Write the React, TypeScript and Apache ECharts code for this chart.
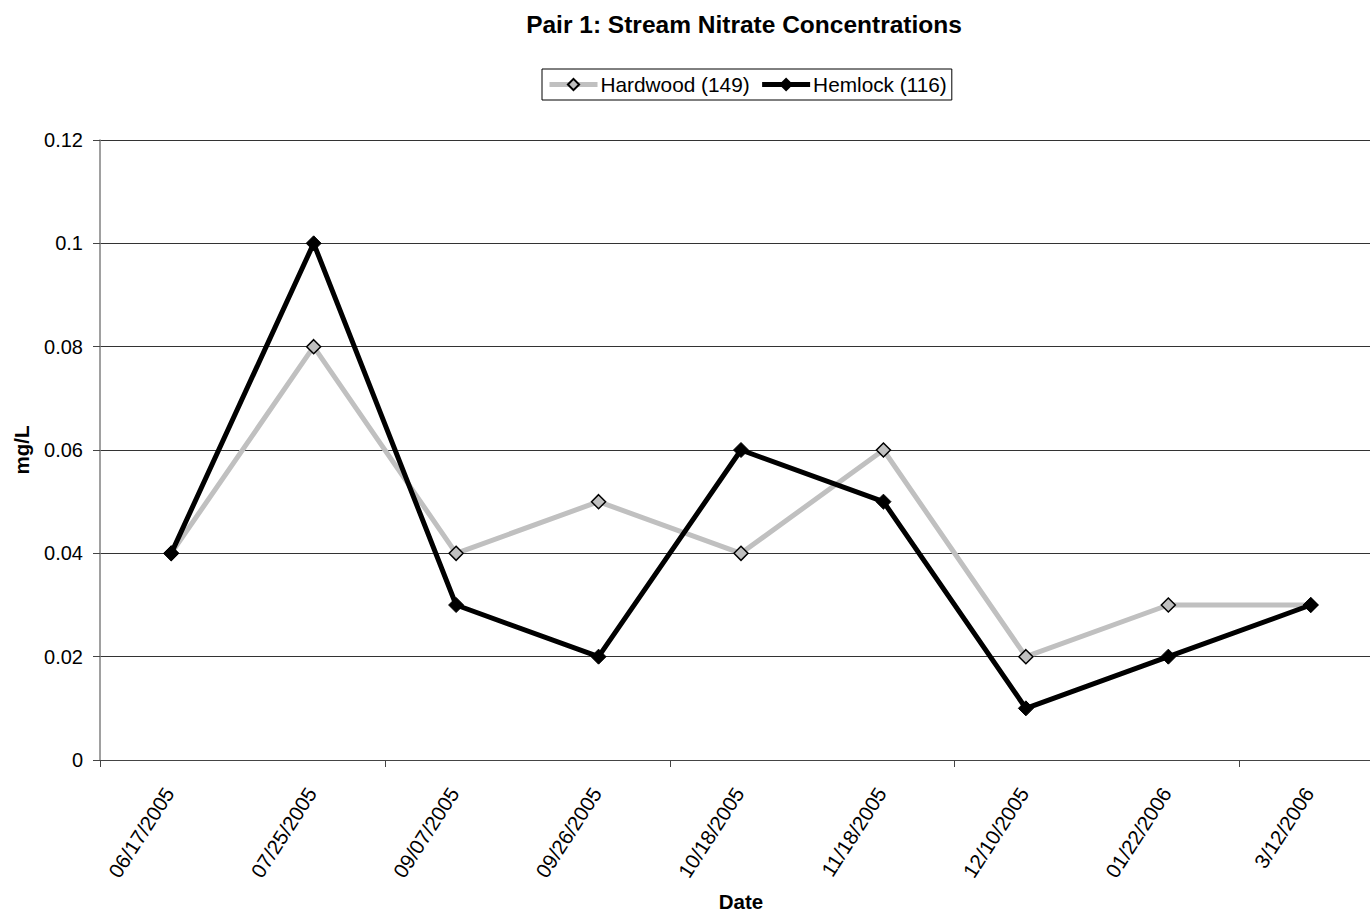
import React, { useEffect, useRef } from "react";
import * as echarts from "echarts";

const dates = [
  "06/17/2005",
  "07/25/2005",
  "09/07/2005",
  "09/26/2005",
  "10/18/2005",
  "11/18/2005",
  "12/10/2005",
  "01/22/2006",
  "3/12/2006",
];
const hardwood = [0.04, 0.08, 0.04, 0.05, 0.04, 0.06, 0.02, 0.03, 0.03];
const hemlock = [0.04, 0.1, 0.03, 0.02, 0.06, 0.05, 0.01, 0.02, 0.03];

const FONT = "Arial, 'Liberation Sans', Helvetica, sans-serif";

export default function App() {
  const ref = useRef<HTMLDivElement>(null);

  useEffect(() => {
    if (!ref.current) return;
    const chart = echarts.init(ref.current, undefined, { renderer: "svg" });
    chart.setOption({
      animation: false,
      backgroundColor: "#ffffff",
      textStyle: { fontFamily: FONT, color: "#000" },
      title: {
        text: "Pair 1: Stream Nitrate Concentrations",
        left: 739,
        textAlign: "center",
        top: 7,
        textStyle: { fontFamily: FONT, fontSize: 24.5, fontWeight: "bold", color: "#000" },
      },
      legend: {
        left: 542,
        top: 69,
        padding: [5, 5, 5, 5],
        itemGap: 10,
        itemWidth: 48,
        itemHeight: 14,
        borderColor: "#000",
        borderWidth: 1,
        borderRadius: 0,
        lineStyle: { width: 5 },
        textStyle: { fontFamily: FONT, fontSize: 20.8, color: "#000", padding: [0, 0, 0, -2] },
        data: ["Hardwood (149)", "Hemlock (116)"],
      },
      // the plot area runs a little past the right edge of the page
      grid: { left: 100, top: 140, height: 623, width: 1282 },
      xAxis: {
        type: "category",
        data: dates,
        boundaryGap: true,
        name: "Date",
        nameLocation: "middle",
        nameGap: 131,
        nameTextStyle: { fontFamily: FONT, fontSize: 20.5, fontWeight: "bold", color: "#000" },
        axisLine: { lineStyle: { color: "#444", width: 1.2 } },
        axisTick: { show: true, interval: 1, length: 7, lineStyle: { color: "#444" } },
        axisLabel: {
          interval: 0,
          rotate: 57,
          margin: 26,
          padding: [0, 4, 0, 0],
          fontFamily: FONT,
          fontSize: 20.5,
          color: "#000",
        },
        splitLine: { show: false },
      },
      yAxis: {
        type: "value",
        min: 0,
        max: 0.12,
        interval: 0.02,
        name: "mg/L",
        nameLocation: "middle",
        nameRotate: 90,
        nameGap: 68,
        nameTextStyle: { fontFamily: FONT, fontSize: 20.5, fontWeight: "bold", color: "#000" },
        axisLine: { show: true, lineStyle: { color: "#808080", width: 1.5 } },
        axisTick: { show: true, length: 7, lineStyle: { color: "#444" } },
        axisLabel: {
          margin: 17,
          fontFamily: FONT,
          fontSize: 20,
          color: "#000",
          formatter: (v: number) => String(parseFloat(v.toFixed(2))),
        },
        splitLine: { show: true, lineStyle: { color: "#333", width: 1 } },
      },
      series: [
        {
          name: "Hardwood (149)",
          type: "line",
          data: hardwood,
          symbol: "diamond",
          symbolSize: 14,
          lineStyle: { color: "#c0c0c0", width: 5 },
          itemStyle: { color: "#c0c0c0", borderColor: "#000", borderWidth: 1.5 },
          z: 2,
        },
        {
          name: "Hemlock (116)",
          type: "line",
          data: hemlock,
          symbol: "diamond",
          symbolSize: 15,
          lineStyle: { color: "#000", width: 5 },
          itemStyle: { color: "#000", borderColor: "#000", borderWidth: 1 },
          z: 3,
        },
      ],
    });
    return () => chart.dispose();
  }, []);

  return (
    <div style={{ position: "fixed", left: 0, top: 0, width: 1370, height: 917, overflow: "hidden" }}>
      <div ref={ref} style={{ width: 1390, height: 917 }} />
    </div>
  );
}
